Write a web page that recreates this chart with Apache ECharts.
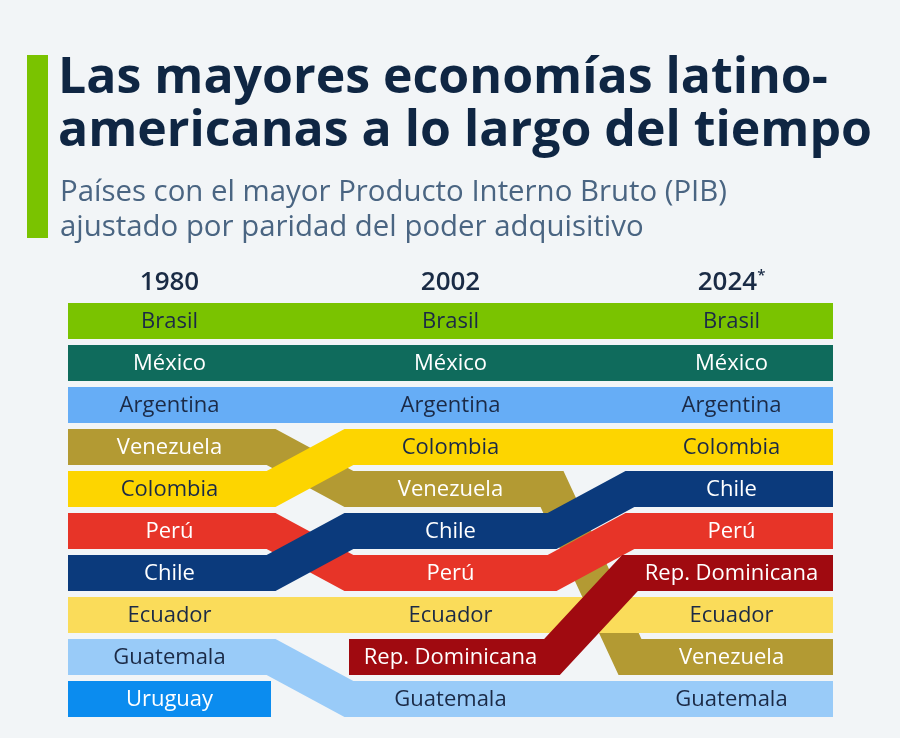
<!DOCTYPE html>
<html>
<head>
<meta charset="utf-8">
<script src="https://cdn.jsdelivr.net/npm/echarts@6/dist/echarts.min.js"></script>
<style>
  html, body { margin: 0; padding: 0; background: #f2f5f7; }
  #chart { width: 900px; height: 738px; }
</style>
</head>
<body>
<div id="chart"></div>
<script>
// ---- Data ----
const years = ['1980', '2002', '2024'];
const yearNotes = ['', '', '*'];
// Drawing order (later = on top)
const countries = ['Venezuela', 'Perú', 'Ecuador', 'Guatemala', 'Uruguay', 'Brasil', 'México', 'Argentina', 'Colombia', 'Chile', 'Rep. Dominicana'];
const rank1980 = [4, 6, 8, 9, 10, 1, 2, 3, 5, 7, null];
const rank2002 = [5, 7, 8, 10, null, 1, 2, 3, 4, 6, 9];
const rank2024 = [9, 6, 8, 10, null, 1, 2, 3, 4, 5, 7];

// ---- Styles ----
const bandColors = ['#b39a33', '#e73428', '#fadc5a', '#99cbf8', '#0b8cef', '#7ac300', '#0f6b5c', '#66adf6', '#fdd500', '#0b3a7c', '#a00a10'];
const darkText = '#1b2a46';
const lightText = '#ffffff';
const labelColors = [lightText, lightText, darkText, darkText, lightText, darkText, lightText, darkText, darkText, lightText, lightText];
const colWidth = 0.7224; // fraction of column pitch occupied by a band block
const bandThickness = 36;

const ranksByYear = [rank1980, rank2002, rank2024];

const lineSeries = countries.map((name, i) => {
  const pts = [];
  ranksByYear.forEach((ranks, c) => {
    const r = ranks[i];
    if (r != null) {
      pts.push([c - colWidth / 2, r]);
      pts.push([c + colWidth / 2, r]);
    }
  });
  return {
    type: 'line',
    name: name,
    data: pts,
    symbol: 'none',
    smooth: false,
    clip: false,
    silent: true,
    z: 2,
    lineStyle: { width: bandThickness, color: bandColors[i], opacity: 1, cap: 'butt', join: 'miter', miterLimit: 10 },
    emphasis: { disabled: true }
  };
});

const labelData = [];
countries.forEach((name, i) => {
  ranksByYear.forEach((ranks, c) => {
    const r = ranks[i];
    if (r != null) {
      labelData.push({ value: [c, r], name: name, label: { color: labelColors[i] } });
    }
  });
});

const labelSeries = {
  type: 'scatter',
  data: labelData,
  symbol: 'rect',
  symbolSize: 1,
  itemStyle: { color: 'rgba(0,0,0,0)', opacity: 1 },
  silent: true,
  z: 10,
  clip: false,
  label: {
    show: true,
    position: 'inside',
    opacity: 1,
    offset: [0, 1],
    formatter: p => p.name,
    fontFamily: 'Open Sans',
    fontSize: 22,
    fontWeight: 400
  },
  emphasis: { disabled: true }
};

const chart = echarts.init(document.getElementById('chart'), null, { renderer: 'canvas' });
chart.setOption({
  animation: false,
  backgroundColor: '#f2f5f7',
  title: [
    {
      text: 'Las mayores economías latino-\namericanas a lo largo del tiempo',
      left: 58, top: 52, padding: 0,
      textStyle: { fontFamily: 'Open Sans', fontWeight: 700, fontSize: 50, lineHeight: 53, color: '#0f2643' }
    },
    {
      text: 'Países con el mayor Producto Interno Bruto (PIB)\najustado por paridad del poder adquisitivo',
      left: 60, top: 175, padding: 0,
      textStyle: { fontFamily: 'Open Sans', fontWeight: 400, fontSize: 29.4, lineHeight: 35, color: '#4a6582' }
    }
  ],
  graphic: [
    { type: 'rect', left: 27, top: 55, shape: { width: 21, height: 183 }, style: { fill: '#7ac300' } }
  ],
  grid: { left: 68, right: 67, top: 300, bottom: 18 },
  xAxis: {
    type: 'value',
    position: 'top',
    min: -colWidth / 2,
    max: years.length - 1 + colWidth / 2,
    axisLine: { show: false },
    axisTick: { show: false },
    splitLine: { show: false },
    axisLabel: {
      show: true,
      customValues: years.map((y, i) => i),
      margin: 2,
      formatter: v => {
        const i = Math.round(v);
        return '{y|' + years[i] + '}' + (yearNotes[i] ? '{s|' + yearNotes[i] + '}' : '');
      },
      rich: {
        y: { fontFamily: 'Open Sans', fontWeight: 600, fontSize: 26, lineHeight: 30, color: '#1a2b45' },
        s: { fontFamily: 'Open Sans', fontWeight: 600, fontSize: 15, lineHeight: 30, color: '#1a2b45', verticalAlign: 'top' }
      }
    }
  },
  yAxis: {
    type: 'value',
    inverse: true,
    min: 0.5,
    max: 10.5,
    show: false
  },
  series: [...lineSeries, labelSeries]
});
</script>
</body>
</html>
